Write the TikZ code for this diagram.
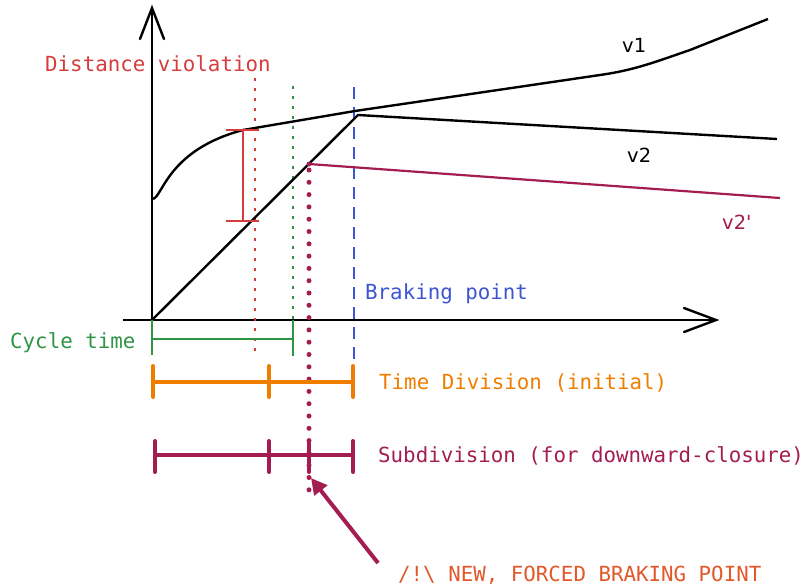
\documentclass[tikz,border=0pt]{standalone}
\usepackage{fontspec}
\setmonofont{DejaVu Sans Mono}
\setsansfont{DejaVu Sans}
\usetikzlibrary{arrows.meta}
\definecolor{cred}{HTML}{D63C3C}
\definecolor{cgreen}{HTML}{2F9444}
\definecolor{cblue}{HTML}{3D55D2}
\definecolor{corange}{HTML}{EF7D00}
\definecolor{cmag}{HTML}{A31D50}
\definecolor{cnew}{HTML}{E2582A}
\tikzset{
  lbl/.style={font=\ttfamily\fontsize{20.8}{24}\selectfont, inner sep=0pt, anchor=base west},
  vlbl/.style={font=\sffamily\fontsize{19.5}{22}\selectfont, inner sep=0pt, anchor=base west},
  curve/.style={line width=2.4pt, black},
  bar/.style={line width=4pt},
  openv/.style={line width=2.4pt, line cap=round}
}
\begin{document}
\begin{tikzpicture}[x=1pt,y=-1pt]
\useasboundingbox (0,0) rectangle (808,587);
% axes
\coordinate (o) at (152,320);
\coordinate (ytop) at (152,8);
\coordinate (xl) at (123,320);
\coordinate (xr) at (716,320);
\draw[line width=2.4pt] (o) -- (ytop);
\draw[openv] (140,39) -- (ytop) -- (164,39);
\draw[line width=2.4pt] (xl) -- (xr);
\draw[openv] (684,308) -- (xr) -- (684,332);
% vertical markers
\draw[cred, line width=2.6pt, dash pattern=on 2.5pt off 7.5pt] (255,78) -- (255,358);
\draw[cgreen, line width=2.6pt, dash pattern=on 2.5pt off 7.5pt] (293,86) -- (293,356);
\draw[cblue, line width=2.6pt, dash pattern=on 12pt off 8pt] (354,87) -- (354,362);
\draw[cmag, line width=5pt, line cap=round, dash pattern=on 0pt off 12.3pt] (309,170) -- (309,490);
% v1
\draw[curve] (153,199) .. controls (163,196) and (168,150) .. (243,130) -- (355,111) -- (600,75) .. controls (635,70) and (655,62) .. (690,50) -- (768,19);
% v2
\coordinate (bp) at (358,115);
\draw[curve] (o) -- (bp) -- (777,139);
% v2'
\coordinate (fb) at (309,164);
\draw[cmag, line width=2.2pt] (fb) -- (780,198);
\fill[cmag] (fb) circle (2.4pt);
% distance bracket
\draw[cred, line width=2.2pt] (243,130) -- (243,221);
\draw[cred, line width=2.2pt] (226,130) -- (259,130);
\draw[cred, line width=2.2pt] (226,221) -- (259,221);
% cycle time bracket
\draw[cgreen, line width=2.2pt] (152,320) -- (152,355);
\draw[cgreen, line width=2.2pt] (293,320) -- (293,356);
\draw[cgreen, line width=2.2pt] (152,339) -- (293,339);
% time division
\draw[corange, bar] (153,382) -- (353,382);
\foreach \x in {153,269,353} \draw[corange, bar, line cap=round] (\x,366) -- (\x,397);
% subdivision
\draw[cmag, bar] (155,455) -- (353,455);
\foreach \x in {155,269,309,353} \draw[cmag, bar, line cap=round] (\x,441) -- (\x,472);
% arrow
\coordinate (as) at (378,563);
\coordinate (ae) at (311,478);
\draw[cmag, line width=4pt, -{Triangle[length=16pt,width=16pt]}] (as) -- (ae);
% labels
\node[lbl, text=cred] (dv) at (45,71) {Distance violation};
\node[lbl, text=cblue] (bpl) at (365,299) {Braking point};
\node[lbl, text=cgreen] (ct) at (10,348) {Cycle time};
\node[lbl, text=corange] (td) at (379,389) {Time Division (initial)};
\node[lbl, text=cmag] (sd) at (378,462) {Subdivision (for downward-closure)};
\node[lbl, text=cnew] (nb) at (398,581) {/!\textbackslash{} NEW, FORCED BRAKING POINT};
\node[vlbl] (v1) at (622,52) {v1};
\node[vlbl] (v2) at (627,162) {v2};
\node[vlbl, text=cmag] (v2p) at (722,229) {v2\textquotesingle};
\end{tikzpicture}
\end{document}
